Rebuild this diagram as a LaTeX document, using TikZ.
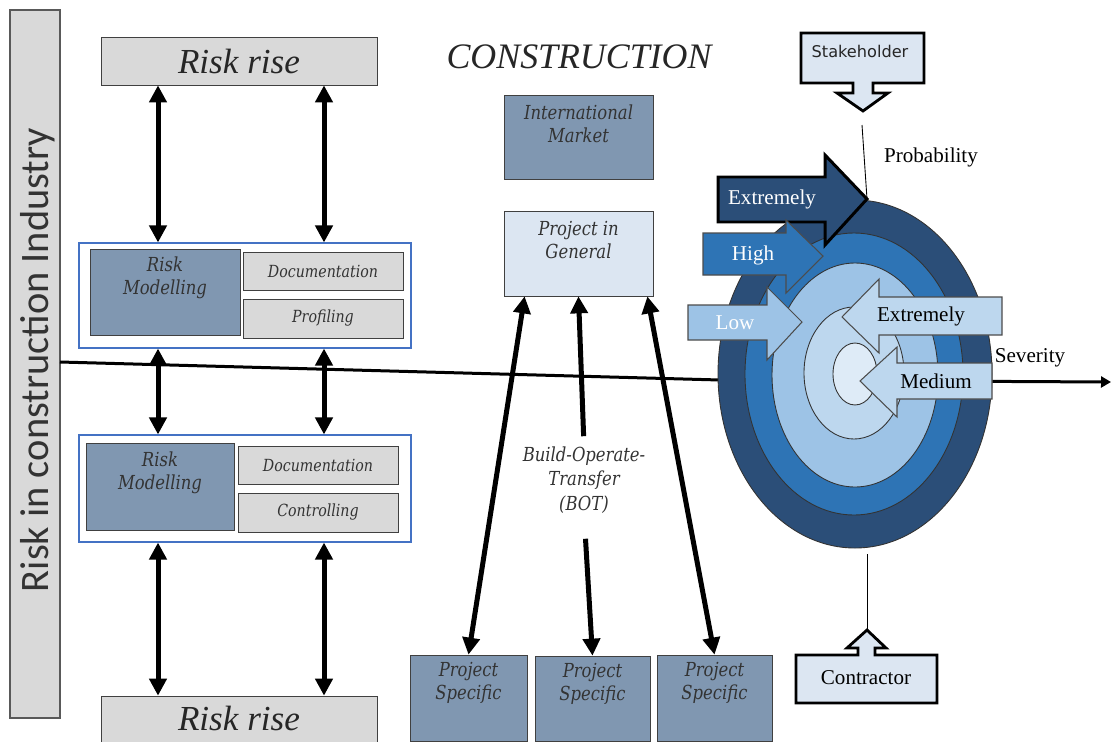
\documentclass[tikz,border=0pt]{standalone}
\usepackage{fontspec}
\setmainfont{Liberation Serif}
\newfontfamily\slab[FakeStretch=0.85]{DejaVu Serif}
\newfontfamily\calfont{Carlito}
\newfontfamily\stakefont{DejaVu Sans}
\usetikzlibrary{arrows.meta,calc,positioning}
\definecolor{riskgray}{HTML}{D9D9D9}
\definecolor{steel}{HTML}{8097B1}
\definecolor{paleblue}{HTML}{DCE6F2}
\definecolor{framebl}{HTML}{4472C4}
\definecolor{ringA}{HTML}{2B4E78}
\definecolor{ringB}{HTML}{2E74B5}
\definecolor{ringC}{HTML}{9DC3E6}
\definecolor{ringD}{HTML}{BDD7EE}
\definecolor{ringE}{HTML}{DEEBF7}
\definecolor{txtgray}{HTML}{333333}
\def\px{0.02cm}

\tikzset{
  sz/.style 2 args={minimum width=#1*\px, minimum height=#2*\px},
  greybox/.style={draw=black!75, fill=riskgray, inner sep=0pt},
  steelbox/.style={draw=black!75, fill=steel, inner sep=0pt},
  palebox/.style={draw=black!75, fill=paleblue, inner sep=0pt},
  frame/.style={draw=framebl, fill=white, line width=0.6pt, inner sep=0pt},
  lbl/.style={font=\slab\itshape\fontsize{11}{13}\selectfont, text=txtgray, align=center, inner sep=0pt},
  small/.style={font=\slab\itshape\fontsize{9.5}{11}\selectfont, text=txtgray},
  rise/.style={font=\itshape\fontsize{20}{22}\selectfont, text=black!85},
  dbl/.style={line width=0.1cm, {Triangle[width=0.34cm,length=0.34cm]}-{Triangle[width=0.34cm,length=0.34cm]}},
  uarr/.style={line width=0.1cm, -{Triangle[width=0.34cm,length=0.34cm]}},
  ring/.style={draw=black!80, line width=0.5pt},
  blockarr/.style={draw=black!70, line width=0.6pt, line join=miter},
  callout/.style={draw=black, fill=paleblue, line width=1.6pt, line join=miter},
  axislbl/.style={font=\fontsize{12}{14}\selectfont},
}

\begin{document}
\begin{tikzpicture}[x=0.02cm, y=-0.02cm]
\useasboundingbox (0,0) rectangle (1112,741);

% side bar
\node[greybox, draw=black!65, line width=0.8pt, sz={50}{708}] (bar) at (35,364) {};
\node[rotate=90, font=\calfont\fontsize{23}{25}\selectfont, text=black!80] (bartxt) at (38,360) {Risk in construction Industry};

% axis
\coordinate (axL) at (60,362);
\coordinate (axM) at (720,380);
\coordinate (axR) at (1111,382);
\draw[line width=0.06cm, -{Triangle[width=0.22cm,length=0.2cm]}] (axL) -- (axM) -- (axR);

% left column
\node[greybox, sz={276}{48}] (rise1) at (239,61) {};
\node[rise] at (rise1.center) {Risk rise};
\node[greybox, sz={276}{48}] (rise2) at (239,720) {};
\node[rise] at (239,718) {Risk rise};

\node[frame, sz={332}{105}] (grp1) at (245,295.5) {};
\node[steelbox, sz={150}{86}] (rm1) at (165,292) {};
\node[lbl, anchor=north] (rm1t) at ([yshift=-8*\px]rm1.north) {Risk\\Modelling};
\node[greybox, small, sz={160}{38}] (doc1) at (323,271) {Documentation};
\node[greybox, small, sz={160}{39}] (prof) at (323,318.5) {Profiling};

\node[frame, sz={332}{107}] (grp2) at (245,488.5) {};
\node[steelbox, sz={148}{87}] (rm2) at (160,486.5) {};
\node[lbl, anchor=north] (rm2t) at ([yshift=-9*\px]rm2.north) {Risk\\Modelling};
\node[greybox, small, sz={160}{38}] (doc2) at (318,465) {Documentation};
\node[greybox, small, sz={160}{39}] (ctrl) at (318,512.5) {Controlling};

\coordinate (colA) at (158,0);
\coordinate (colB) at (324,0);
\draw[dbl] (rise1.south -| colA) -- (grp1.north -| colA);
\draw[dbl] (rise1.south -| colB) -- (grp1.north -| colB);
\draw[dbl] (grp1.south -| colA) -- (grp2.north -| colA);
\draw[dbl] (grp1.south -| colB) -- (grp2.north -| colB);
\draw[dbl] (grp2.south -| colA) -- (rise2.north -| colA);
\draw[dbl] (grp2.south -| colB) -- (rise2.north -| colB);

% middle column
\node[font=\itshape\fontsize{20.4}{22}\selectfont, text=black!85] (constr) at (579,57) {CONSTRUCTION};
\node[steelbox, sz={149}{84}] (im) at (578.5,137) {};
\node[lbl, anchor=north] (imt) at ([yshift=-10*\px]im.north) {International\\Market};
\node[palebox, sz={149}{85}] (pg) at (578.5,253.5) {};
\node[lbl, anchor=north] (pgt) at ([yshift=-10*\px]pg.north) {Project in\\General};

\node[steelbox, sz={117}{86}] (ps1) at (468.5,698) {};
\node[steelbox, sz={115}{85}] (ps2) at (592.5,698.5) {};
\node[steelbox, sz={115}{86}] (ps3) at (714.5,698) {};
\foreach \b in {ps1,ps2,ps3}
  \node[lbl, anchor=north] at ([yshift=-7*\px]\b.north) {Project\\Specific};

\node[lbl, font=\slab\itshape\fontsize{11}{14}\selectfont] (bot) at (584,480) {Build-Operate-\\Transfer\\(BOT)};

\draw[dbl] (ps1.north) -- ($(pg.south west)!.14!(pg.south east)$);
\draw[dbl] (ps3.north) -- ($(pg.south west)!.96!(pg.south east)$);
\draw[uarr, shorten <=0.2cm] (bot.north) -- (pg.south);
\draw[uarr, shorten <=0.5cm] (bot.south) -- (ps2.north);

% target
\draw[ring, fill=ringA] (855,374) ellipse [x radius=137, y radius=174];
\draw[ring, fill=ringB] (854,374) ellipse [x radius=109, y radius=141];
\draw[ring, fill=ringC] (855,375) ellipse [x radius=83, y radius=112];
\draw[ring, fill=ringD] (854,373) ellipse [x radius=50, y radius=66];
\draw[ring, fill=ringE] (855,374) ellipse [x radius=22, y radius=31];

% probability arrows
\draw[blockarr, draw=black, line width=1.7pt, fill=ringA] (718,177) -- (825,177) -- (825,155) -- (867,199) coordinate (extip) -- (825,245) -- (825,222) -- (718,222) -- cycle;
\node[axislbl, text=white] (ext1) at (772,199) {Extremely};
\draw[blockarr, fill=ringB] (703,233) -- (786,233) -- (786,220) -- (823,256) -- (786,293) -- (786,275) -- (703,275) -- cycle;
\node[axislbl, text=white] (high) at (753,255) {High};
\draw[blockarr, fill=ringC] (688,305) -- (767,305) -- (767,287) -- (802,322) -- (767,360) -- (767,340) -- (688,340) -- cycle;
\node[axislbl, text=white] (low) at (735,323) {Low};

% severity arrows
\draw[blockarr, fill=ringD] (1002,297) -- (879,297) -- (879,279) -- (842,317) -- (879,353) -- (879,335) -- (1002,335) -- cycle;
\node[axislbl] (ext2) at (921,316) {Extremely};
\draw[blockarr, fill=ringD] (992,363) -- (897,363) -- (897,347) -- (860,381) -- (897,417) -- (897,399) -- (992,399) -- cycle;
\node[axislbl] (med) at (936,381) {Medium};

\node[axislbl] (prob) at (931,157) {Probability};
\node[axislbl] (sev) at (1030,358) {Severity};

% stakeholder / contractor
\draw[callout] (801,33) -- (924,33) -- (924,83) -- (873,83) -- (873,93) -- (888,93) -- (863,111) coordinate (stktip) -- (837,93) -- (853,93) -- (853,83) -- (801,83) -- cycle;
\node[font=\stakefont\fontsize{9.2}{10}\selectfont, text=black!85] (stake) at (860,51) {Stakeholder};
\coordinate (probtop) at (862,125);
\draw[line width=0.5pt] (probtop) -- (extip);

\draw[callout] (796,655) -- (858,655) -- (858,648) -- (847,648) -- (867,630) coordinate (contip) -- (886,648) -- (875,648) -- (875,655) -- (937,655) -- (937,703) -- (796,703) -- cycle;
\node[axislbl] (contr) at (866,678) {Contractor};
\coordinate (contop) at (867,554);
\draw[line width=0.5pt] (contop) -- (contip);
\end{tikzpicture}
\end{document}
